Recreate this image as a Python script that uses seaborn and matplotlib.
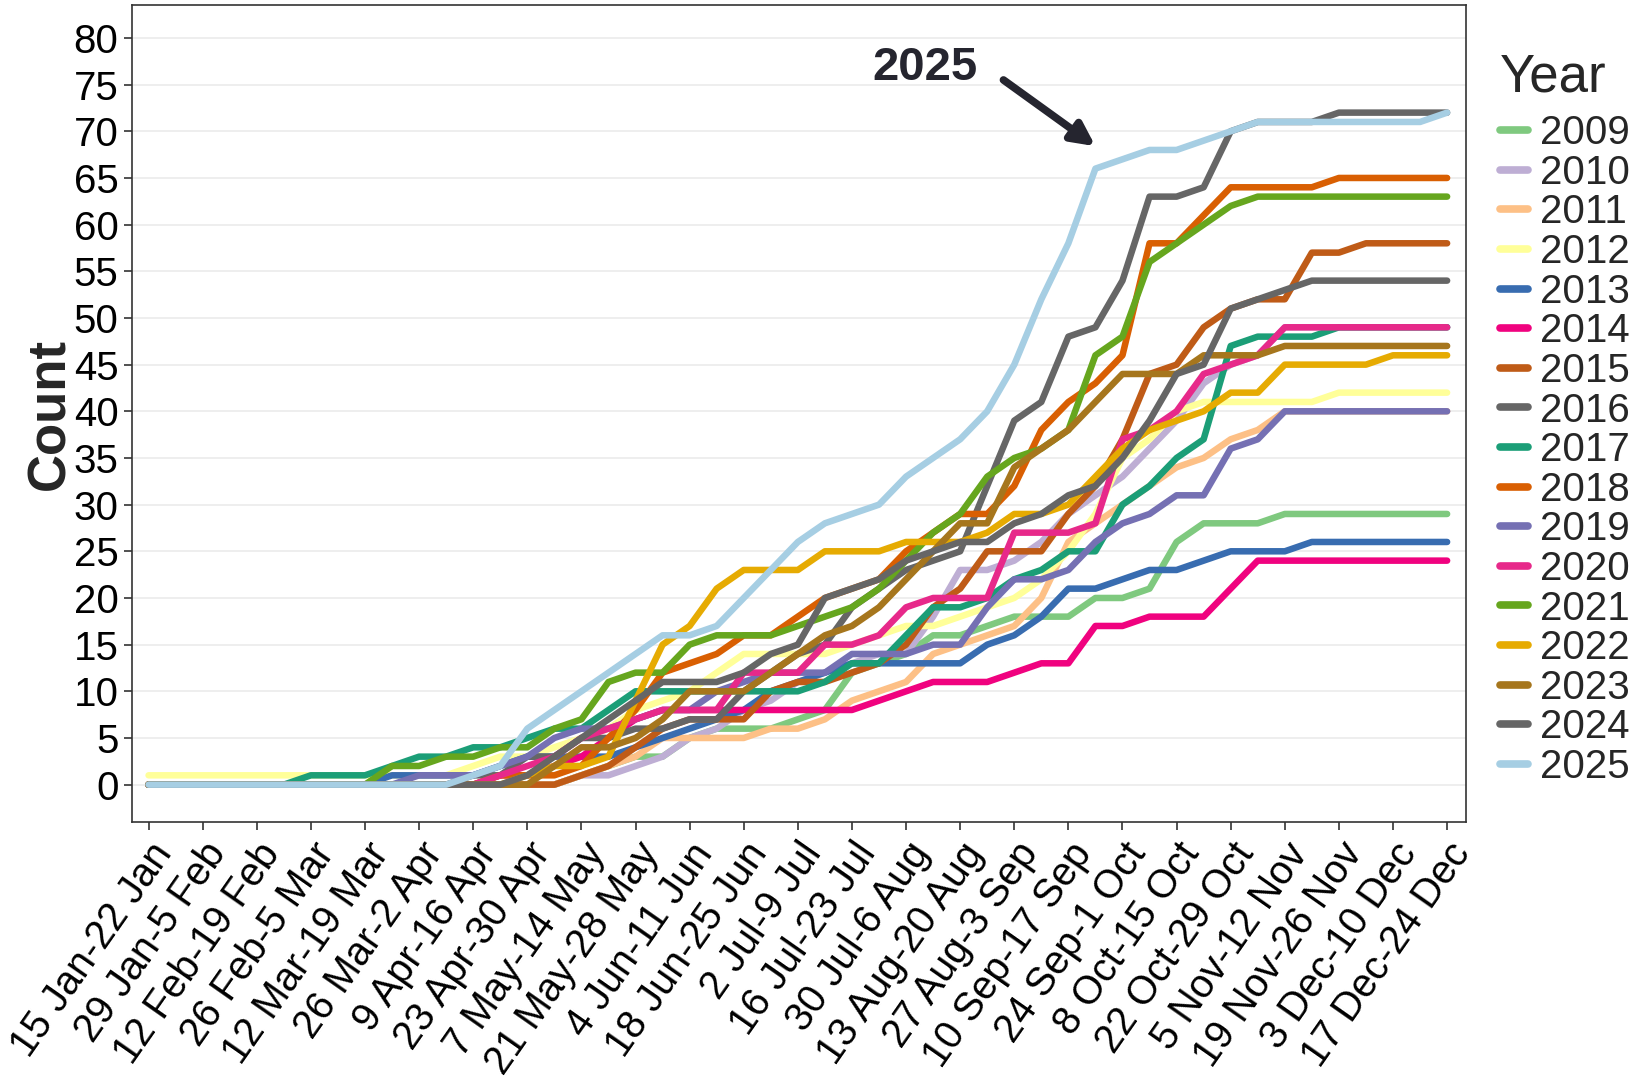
import matplotlib
matplotlib.use("Agg")
import matplotlib.pyplot as plt
import pandas as pd
import seaborn as sns

# Week index 0..48 (weekly periods from 15 Jan to 24 Dec); every other week is labelled
tick_labels = [
    "15 Jan-22 Jan", "29 Jan-5 Feb", "12 Feb-19 Feb", "26 Feb-5 Mar",
    "12 Mar-19 Mar", "26 Mar-2 Apr", "9 Apr-16 Apr", "23 Apr-30 Apr",
    "7 May-14 May", "21 May-28 May", "4 Jun-11 Jun", "18 Jun-25 Jun",
    "2 Jul-9 Jul", "16 Jul-23 Jul", "30 Jul-6 Aug", "13 Aug-20 Aug",
    "27 Aug-3 Sep", "10 Sep-17 Sep", "24 Sep-1 Oct", "8 Oct-15 Oct",
    "22 Oct-29 Oct", "5 Nov-12 Nov", "19 Nov-26 Nov", "3 Dec-10 Dec",
    "17 Dec-24 Dec",
]

years = ["2009", "2010", "2011", "2012", "2013", "2014", "2015", "2016", "2017",
         "2018", "2019", "2020", "2021", "2022", "2023", "2024", "2025"]

# Cumulative weekly counts per year
y2009 = [0, 0, 0, 0, 0, 0, 0, 0, 0, 0, 0, 0, 0, 0, 0, 0, 1, 2, 3, 3,
         5, 6, 6, 6, 7, 8, 12, 13, 14, 16, 16, 17, 18, 18, 18, 20, 20, 21, 26, 28,
         28, 28, 29, 29, 29, 29, 29, 29, 29]
y2010 = [0, 0, 0, 0, 0, 0, 0, 0, 0, 0, 0, 0, 0, 0, 0, 0, 1, 1, 2, 3,
         5, 6, 8, 9, 11, 12, 13, 14, 14, 18, 23, 23, 24, 26, 29, 31, 33, 36, 39, 43,
         45, 46, 49, 49, 49, 49, 49, 49, 49]
y2011 = [0, 0, 0, 0, 0, 0, 0, 0, 0, 0, 0, 0, 0, 0, 0, 0, 1, 2, 3, 5,
         5, 5, 5, 6, 6, 7, 9, 10, 11, 14, 15, 16, 17, 20, 26, 28, 30, 32, 34, 35,
         37, 38, 40, 40, 40, 40, 40, 40, 40]
y2012 = [1, 1, 1, 1, 1, 1, 1, 1, 1, 1, 1, 1, 2, 3, 3, 4, 5, 6, 8, 9,
         10, 12, 14, 14, 14, 14, 15, 16, 17, 17, 18, 19, 20, 22, 25, 29, 35, 37, 40, 41,
         41, 41, 41, 41, 42, 42, 42, 42, 42]
y2013 = [0, 0, 0, 0, 0, 0, 0, 0, 0, 1, 1, 1, 1, 2, 3, 3, 3, 3, 4, 5,
         6, 7, 8, 10, 11, 12, 13, 13, 13, 13, 13, 15, 16, 18, 21, 21, 22, 23, 23, 24,
         25, 25, 25, 26, 26, 26, 26, 26, 26]
y2014 = [0, 0, 0, 0, 0, 0, 0, 0, 0, 0, 0, 0, 0, 1, 1, 2, 3, 5, 7, 8,
         8, 8, 8, 8, 8, 8, 8, 9, 10, 11, 11, 11, 12, 13, 13, 17, 17, 18, 18, 18,
         21, 24, 24, 24, 24, 24, 24, 24, 24]
y2015 = [0, 0, 0, 0, 0, 0, 0, 0, 0, 0, 0, 0, 0, 0, 0, 0, 1, 2, 4, 6,
         7, 7, 7, 10, 11, 11, 12, 13, 15, 19, 21, 25, 25, 25, 29, 32, 37, 44, 45, 49,
         51, 52, 52, 57, 57, 58, 58, 58, 58]
y2016 = [0, 0, 0, 0, 0, 0, 0, 0, 0, 0, 0, 0, 1, 1, 3, 3, 5, 5, 6, 6,
         7, 7, 10, 12, 14, 15, 19, 21, 23, 24, 25, 32, 39, 41, 48, 49, 54, 63, 63, 64,
         70, 71, 71, 71, 72, 72, 72, 72, 72]
y2017 = [0, 0, 0, 0, 0, 0, 1, 1, 1, 2, 3, 3, 4, 4, 5, 6, 6, 8, 10, 10,
         10, 10, 10, 10, 10, 11, 13, 13, 16, 19, 19, 20, 22, 23, 25, 25, 30, 32, 35, 37,
         47, 48, 48, 48, 49, 49, 49, 49, 49]
y2018 = [0, 0, 0, 0, 0, 0, 0, 0, 0, 0, 0, 0, 0, 1, 1, 1, 2, 5, 8, 12,
         13, 14, 16, 16, 18, 20, 21, 22, 25, 27, 29, 29, 32, 38, 41, 43, 46, 58, 58, 61,
         64, 64, 64, 64, 65, 65, 65, 65, 65]
y2019 = [0, 0, 0, 0, 0, 0, 0, 0, 0, 0, 1, 1, 1, 2, 3, 5, 6, 6, 7, 8,
         8, 10, 11, 12, 12, 12, 14, 14, 14, 15, 15, 19, 22, 22, 23, 26, 28, 29, 31, 31,
         36, 37, 40, 40, 40, 40, 40, 40, 40]
y2020 = [0, 0, 0, 0, 0, 0, 0, 0, 0, 0, 0, 0, 0, 1, 2, 3, 5, 6, 7, 8,
         8, 8, 12, 12, 12, 15, 15, 16, 19, 20, 20, 20, 27, 27, 27, 28, 37, 38, 40, 44,
         45, 46, 49, 49, 49, 49, 49, 49, 49]
y2021 = [0, 0, 0, 0, 0, 0, 0, 0, 0, 2, 2, 3, 3, 4, 4, 6, 7, 11, 12, 12,
         15, 16, 16, 16, 17, 18, 19, 21, 24, 27, 29, 33, 35, 36, 38, 46, 48, 56, 58, 60,
         62, 63, 63, 63, 63, 63, 63, 63, 63]
y2022 = [0, 0, 0, 0, 0, 0, 0, 0, 0, 0, 0, 0, 0, 0, 1, 2, 2, 3, 9, 15,
         17, 21, 23, 23, 23, 25, 25, 25, 26, 26, 26, 27, 29, 29, 30, 33, 36, 38, 39, 40,
         42, 42, 45, 45, 45, 45, 46, 46, 46]
y2023 = [0, 0, 0, 0, 0, 0, 0, 0, 0, 0, 0, 0, 0, 0, 0, 2, 4, 4, 5, 7,
         10, 10, 10, 12, 14, 16, 17, 19, 22, 25, 28, 28, 34, 36, 38, 41, 44, 44, 44, 46,
         46, 46, 47, 47, 47, 47, 47, 47, 47]
y2024 = [0, 0, 0, 0, 0, 0, 0, 0, 0, 0, 0, 0, 0, 0, 1, 3, 5, 7, 9, 11,
         11, 11, 12, 14, 15, 20, 21, 22, 24, 25, 26, 26, 28, 29, 31, 32, 35, 39, 44, 45,
         51, 52, 53, 54, 54, 54, 54, 54, 54]
y2025 = [0, 0, 0, 0, 0, 0, 0, 0, 0, 0, 0, 0, 1, 2, 6, 8, 10, 12, 14, 16,
         16, 17, 20, 23, 26, 28, 29, 30, 33, 35, 37, 40, 45, 52, 58, 66, 67, 68, 68, 69,
         70, 71, 71, 71, 71, 71, 71, 71, 72]

series = [y2009, y2010, y2011, y2012, y2013, y2014, y2015, y2016, y2017,
          y2018, y2019, y2020, y2021, y2022, y2023, y2024, y2025]

palette = {
    "2009": "#7FC97F", "2010": "#BEAED4", "2011": "#FDC086", "2012": "#FFFF99",
    "2013": "#386CB0", "2014": "#F0027F", "2015": "#BF5B17", "2016": "#666666",
    "2017": "#1B9E77", "2018": "#D95F02", "2019": "#7570B3", "2020": "#E7298A",
    "2021": "#66A61E", "2022": "#E6AB02", "2023": "#A6761D", "2024": "#666666",
    "2025": "#A6CEE3",
}

rows = []
for yr, vals in zip(years, series):
    for wk, c in enumerate(vals):
        rows.append((wk, c, yr))
df = pd.DataFrame(rows, columns=["week", "count", "year"])

sns.set_theme(style="white")
plt.rcParams["font.family"] = ["Liberation Sans", "DejaVu Sans"]

fig = plt.figure(figsize=(16.48, 10.79), dpi=100)
ax = fig.add_axes([0.0803, 0.2382, 0.8093, 0.7569])

sns.lineplot(data=df, x="week", y="count", hue="year", hue_order=years,
             palette=palette, linewidth=4.7, estimator=None, ax=ax)

ax.set_xlim(-0.6, 48.7)
ax.set_ylim(-4.0, 83.5)
ax.set_yticks(range(0, 81, 5))
ax.set_xticks(range(0, 49, 2))
ax.set_xticklabels(tick_labels, rotation=55, ha="right", va="top",
                   rotation_mode="anchor", fontsize=28.5, color="black")
ax.tick_params(axis="y", labelsize=29, labelcolor="black")
ax.tick_params(axis="both", direction="out", length=6, width=1.2,
               color="#333333", bottom=True, left=True, pad=4)
ax.yaxis.grid(True, color="#EBEBEB", linewidth=1.2)
ax.xaxis.grid(False)
ax.set_axisbelow(True)
for sp in ax.spines.values():
    sp.set_color("#333333")
    sp.set_linewidth(1.2)

ax.set_xlabel("")
ax.set_ylabel("Count", fontsize=38, fontweight="bold", labelpad=-1.5)

# Year legend outside the panel on the right
handles, labels = ax.get_legend_handles_labels()
ax.get_legend().remove()
for h in handles:
    h.set_linewidth(5.5)
leg = fig.legend(handles, labels, title="Year", loc="upper left",
                 bbox_to_anchor=(1500 / 1648, 1 - 52 / 1079), frameon=False,
                 fontsize=29, title_fontsize=38, handlelength=0.7,
                 handletextpad=0.3, labelspacing=0.04, borderpad=0.0,
                 borderaxespad=0.0)
leg._legend_box.align = "left"
leg._legend_box.sep = 8.8

ax.text(28.7, 76.8, "2025", fontsize=34, fontweight="bold", color="#25252F",
        ha="center", va="center")
ax.annotate("", xy=(35.0, 68.4), xytext=(31.6, 75.5),
            arrowprops=dict(arrowstyle="-|>", color="#25252F", lw=5.5,
                            mutation_scale=34, shrinkA=0, shrinkB=0))

fig.savefig("out.png", dpi=100)
